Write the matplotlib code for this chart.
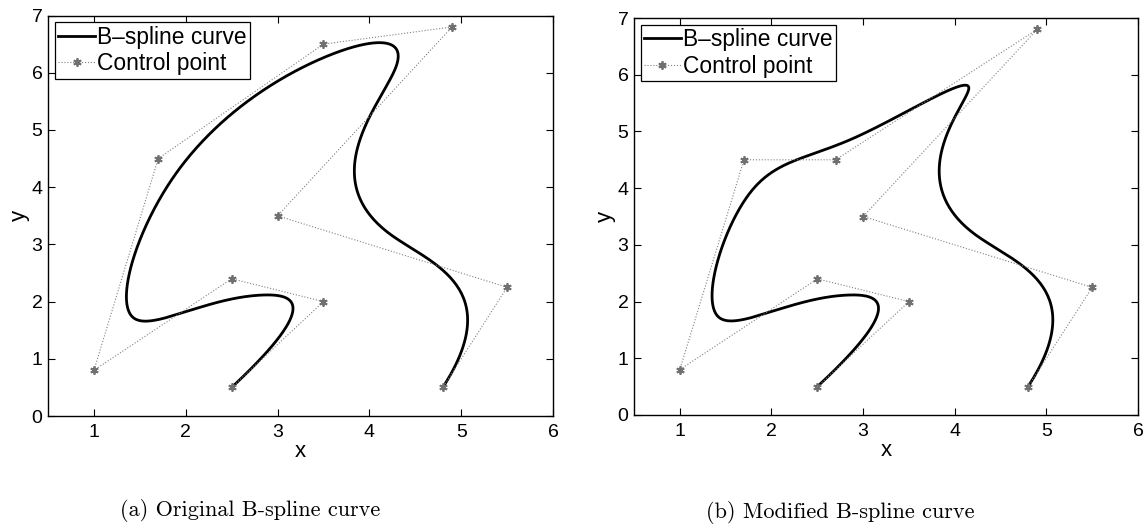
import numpy as np
import matplotlib.pyplot as plt

# control points
orig_x = [2.5, 3.5, 2.5, 1.0, 1.7, 3.5, 4.9, 3.0, 5.5, 4.8]
orig_y = [0.5, 2.0, 2.4, 0.8, 4.5, 6.5, 6.8, 3.5, 2.25, 0.5]
mod_x = [2.5, 3.5, 2.5, 1.0, 1.7, 2.7, 4.9, 3.0, 5.5, 4.8]
mod_y = [0.5, 2.0, 2.4, 0.8, 4.5, 4.5, 6.8, 3.5, 2.25, 0.5]
captions = ["(a) Original B-spline curve", "(b) Modified B-spline curve"]
x_ticks = [1, 2, 3, 4, 5, 6]
y_ticks = [0, 1, 2, 3, 4, 5, 6, 7]

plt.rcParams['font.family'] = ['Liberation Sans', 'DejaVu Sans']


def bspline(px, py, degree=3, samples=800):
    # clamped cubic B-spline of the control polygon (Cox-de Boor),
    # end spans a bit shorter than the middle ones
    spans = np.array([0.5, 1, 1, 1, 1, 1, 0.5])
    inner = np.cumsum(spans)[:-1] / spans.sum()
    knots = np.concatenate([[0] * (degree + 1), inner, [1] * (degree + 1)])
    t = np.linspace(0, 1 - 1e-9, samples)
    basis = np.zeros((samples, len(knots) - 1))
    for i in range(len(knots) - 1):
        basis[:, i] = (t >= knots[i]) & (t < knots[i + 1])
    for k in range(1, degree + 1):
        new = np.zeros((samples, len(knots) - 1 - k))
        for i in range(len(knots) - 1 - k):
            a = 0.0
            b = 0.0
            if knots[i + k] != knots[i]:
                a = (t - knots[i]) / (knots[i + k] - knots[i]) * basis[:, i]
            if knots[i + k + 1] != knots[i + 1]:
                b = (knots[i + k + 1] - t) / (knots[i + k + 1] - knots[i + 1]) * basis[:, i + 1]
            new[:, i] = a + b
        basis = new
    return basis @ np.array(px), basis @ np.array(py)


fig = plt.figure(figsize=(11.44, 5.30), dpi=100)
ax_a = fig.add_axes([0.042, 0.215, 0.4414, 0.7557])
ax_b = fig.add_axes([0.5542, 0.217, 0.4406, 0.749])

for ax, px, py in [(ax_a, orig_x, orig_y), (ax_b, mod_x, mod_y)]:
    cx, cy = bspline(px, py)
    ax.plot(cx, cy, color='black', lw=2.0, label="B\u2013spline curve")
    ax.plot(px, py, color='#808080', lw=0.8, ls=':', marker=(6, 2, 0),
            ms=6, mew=1.3, mec='#707070', label="Control point")
    ax.set_xlim(0.5, 6)
    ax.set_ylim(0, 7)
    ax.set_xticks(x_ticks)
    ax.set_yticks(y_ticks)
    ax.tick_params(direction='in', top=True, right=True, length=5, labelsize=14)
    ax.tick_params(axis='x', pad=6)
    ax.tick_params(axis='y', pad=4)
    ax.set_xlabel("x", fontsize=16, labelpad=0)
    ax.set_ylabel("y", fontsize=16, labelpad=1)
    for s in ax.spines.values():
        s.set_linewidth(1.0)
    leg = ax.legend(loc='upper left', fontsize=16.4, fancybox=False, framealpha=1,
                    edgecolor='black', handlelength=1.6, handletextpad=0.1,
                    borderpad=0.15, labelspacing=0.15, borderaxespad=0.3)
    leg.get_frame().set_linewidth(0.9)

fig.text(250 / 1144, 1 - 511 / 530, captions[0], family='cmr10', fontsize=16, ha='center', va='center')
fig.text(840 / 1144, 1 - 513 / 530, captions[1], family='cmr10', fontsize=16, ha='center', va='center')

fig.savefig("out.png", dpi=100)
